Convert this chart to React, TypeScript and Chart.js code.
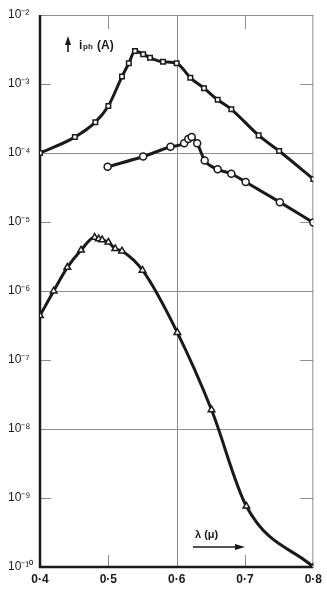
import React, { useEffect, useRef } from "react";
import { Chart, registerables } from "chart.js";
Chart.register(...registerables);

// Square-marker series (top)
const SQ_X = [0.4, 0.451, 0.481, 0.5, 0.52, 0.53, 0.539, 0.551, 0.561, 0.58, 0.6, 0.62, 0.64, 0.66, 0.68, 0.72, 0.75, 0.8];
const SQ_Y = [1.0e-4, 1.7e-4, 2.8e-4, 4.8e-4, 1.28e-3, 2.0e-3, 3.0e-3, 2.7e-3, 2.4e-3, 2.1e-3, 2.0e-3, 1.23e-3, 8.7e-4, 5.9e-4, 4.3e-4, 1.8e-4, 1.07e-4, 4.2e-5];

// Circle-marker series (middle)
const CI_X = [0.499, 0.551, 0.591, 0.611, 0.617, 0.622, 0.63, 0.641, 0.66, 0.68, 0.701, 0.751, 0.8];
const CI_Y = [6.3e-5, 8.9e-5, 1.23e-4, 1.38e-4, 1.6e-4, 1.7e-4, 1.38e-4, 7.8e-5, 5.8e-5, 5.0e-5, 3.8e-5, 1.94e-5, 9.8e-6];

// Triangle-marker series (bottom)
const TR_X = [0.4, 0.42, 0.44, 0.46, 0.48, 0.486, 0.491, 0.5, 0.51, 0.52, 0.55, 0.601, 0.651, 0.702, 0.8];
const TR_Y = [4.4e-7, 1.0e-6, 2.2e-6, 3.9e-6, 6.0e-6, 5.7e-6, 5.5e-6, 5.1e-6, 4.1e-6, 3.8e-6, 2.0e-6, 2.5e-7, 1.9e-8, 7.6e-10, 1.0e-10];

const X_TICKS = [0.4, 0.5, 0.6, 0.7, 0.8];
const X_TICK_LABELS = ["0·4", "0·5", "0·6", "0·7", "0·8"];
const Y_TICKS = [1e-10, 1e-9, 1e-8, 1e-7, 1e-6, 1e-5, 1e-4, 1e-3, 1e-2];
const Y_TICK_LABELS = ["10⁻¹⁰", "10⁻⁹", "10⁻⁸", "10⁻⁷", "10⁻⁶", "10⁻⁵", "10⁻⁴", "10⁻³", "10⁻²"];
const Y_FULL_GRID = [1e-4, 1e-6, 1e-8];
const Y_SHORT_GRID = [1e-3, 1e-5, 1e-7, 1e-9];
const X_FULL_GRID = [0.6];
const X_SHORT_GRID = [0.5, 0.7];

const INK = "#1a1a1a";
const GRID = "#8c8c8c";
const FONT = "'Liberation Sans', Arial, sans-serif";

const framePlugin = {
  id: "frame",
  beforeDatasetsDraw(chart: any) {
    const { ctx, chartArea: a, scales } = chart;
    const x = scales.x;
    const y = scales.y;
    ctx.save();
    ctx.strokeStyle = GRID;
    ctx.lineWidth = 1;
    ctx.beginPath();
    for (const v of Y_FULL_GRID) {
      const py = Math.round(y.getPixelForValue(v)) + 0.5;
      ctx.moveTo(a.left, py);
      ctx.lineTo(a.right, py);
    }
    for (const v of Y_SHORT_GRID) {
      const py = Math.round(y.getPixelForValue(v)) + 0.5;
      ctx.moveTo(a.left, py);
      ctx.lineTo(a.left + 11, py);
      ctx.moveTo(a.right - 13, py);
      ctx.lineTo(a.right, py);
    }
    for (const v of X_FULL_GRID) {
      const px = Math.round(x.getPixelForValue(v)) + 0.5;
      ctx.moveTo(px, a.top);
      ctx.lineTo(px, a.bottom);
    }
    for (const v of X_SHORT_GRID) {
      const px = Math.round(x.getPixelForValue(v)) + 0.5;
      ctx.moveTo(px, a.top);
      ctx.lineTo(px, a.top + 14);
      ctx.moveTo(px, a.bottom - 12);
      ctx.lineTo(px, a.bottom);
    }
    ctx.moveTo(a.left, a.top + 0.5);
    ctx.lineTo(a.right, a.top + 0.5);
    ctx.moveTo(a.right - 0.5, a.top);
    ctx.lineTo(a.right - 0.5, a.bottom);
    ctx.stroke();

    ctx.strokeStyle = INK;
    ctx.lineWidth = 2.5;
    ctx.beginPath();
    ctx.moveTo(a.left, a.top);
    ctx.lineTo(a.left, a.bottom);
    ctx.lineTo(a.right, a.bottom);
    ctx.stroke();
    ctx.restore();
  },
  afterDatasetsDraw(chart: any) {
    const { ctx, chartArea: a } = chart;
    ctx.save();
    ctx.fillStyle = INK;
    ctx.strokeStyle = INK;
    // y-axis title: arrow + i_ph (A)
    const ax = a.left + 28;
    ctx.lineWidth = 1.6;
    ctx.beginPath();
    ctx.moveTo(ax, a.top + 37);
    ctx.lineTo(ax, a.top + 27);
    ctx.stroke();
    ctx.beginPath();
    ctx.moveTo(ax, a.top + 21);
    ctx.lineTo(ax - 3, a.top + 30);
    ctx.lineTo(ax + 3, a.top + 30);
    ctx.closePath();
    ctx.fill();
    ctx.textBaseline = "alphabetic";
    ctx.textAlign = "left";
    ctx.font = `bold 12px ${FONT}`;
    ctx.fillText("i", a.left + 39, a.top + 34);
    ctx.font = `bold 8px ${FONT}`;
    ctx.fillText("ph", a.left + 43, a.top + 34);
    ctx.font = `bold 12px ${FONT}`;
    ctx.fillText("(A)", a.left + 57, a.top + 34);

    // x-axis title: λ (μ) + arrow
    ctx.font = `bold 11px ${FONT}`;
    ctx.fillText("λ (μ)", 195, a.bottom - 29);
    const ay = a.bottom - 20;
    ctx.lineWidth = 1.6;
    ctx.beginPath();
    ctx.moveTo(193, ay);
    ctx.lineTo(237, ay);
    ctx.stroke();
    ctx.beginPath();
    ctx.moveTo(245, ay);
    ctx.lineTo(235, ay - 3);
    ctx.lineTo(235, ay + 3);
    ctx.closePath();
    ctx.fill();
    ctx.restore();
  },
};

function series(xs: number[], ys: number[], style: string, r: number) {
  return {
    data: xs.map((x, i) => ({ x, y: ys[i] })),
    borderColor: INK,
    borderWidth: 3,
    pointStyle: style,
    pointRadius: r,
    pointBackgroundColor: "#ffffff",
    pointBorderColor: INK,
    pointBorderWidth: 1.5,
    cubicInterpolationMode: "monotone" as const,
    fill: false,
  };
}

export default function App() {
  const ref = useRef<HTMLCanvasElement | null>(null);
  useEffect(() => {
    if (!ref.current) return;
    const chart = new Chart(ref.current, {
      type: "line",
      data: {
        datasets: [
          series(SQ_X, SQ_Y, "rect", 3.2),
          series(CI_X, CI_Y, "circle", 3.5),
          series(TR_X, TR_Y, "triangle", 3.8),
        ] as any,
      },
      options: {
        animation: false,
        responsive: false,
        devicePixelRatio: 1,
        layout: { padding: { left: 8, top: 15, right: 11, bottom: 0 } },
        plugins: { legend: { display: false }, tooltip: { enabled: false } },
        scales: {
          x: {
            type: "linear",
            min: 0.4,
            max: 0.8,
            grid: { display: false, drawTicks: false },
            border: { display: false },
            afterBuildTicks: (s: any) => {
              s.ticks = X_TICKS.map((v) => ({ value: v }));
            },
            afterFit: (s: any) => {
              s.height = 27;
            },
            ticks: {
              padding: 5,
              maxRotation: 0,
              autoSkip: false,
              color: INK,
              font: { family: FONT, size: 12, weight: "bold" },
              callback: (_v: any, i: number) => X_TICK_LABELS[i],
            },
          },
          y: {
            type: "logarithmic",
            min: 1e-10,
            max: 1e-2,
            grid: { display: false, drawTicks: false },
            border: { display: false },
            afterBuildTicks: (s: any) => {
              s.ticks = Y_TICKS.map((v) => ({ value: v }));
            },
            afterFit: (s: any) => {
              s.width = 32;
            },
            ticks: {
              crossAlign: "far",
              autoSkip: false,
              color: INK,
              font: { family: FONT, size: 12 },
              callback: (_v: any, i: number) => Y_TICK_LABELS[i],
            },
          },
        },
      } as any,
      plugins: [framePlugin],
    });
    return () => chart.destroy();
  }, []);
  return (
    <div style={{ position: "absolute", left: 0, top: 0, width: 327, height: 594, background: "#fff" }}>
      <canvas ref={ref} width={327} height={594} style={{ display: "block" }} />
    </div>
  );
}
